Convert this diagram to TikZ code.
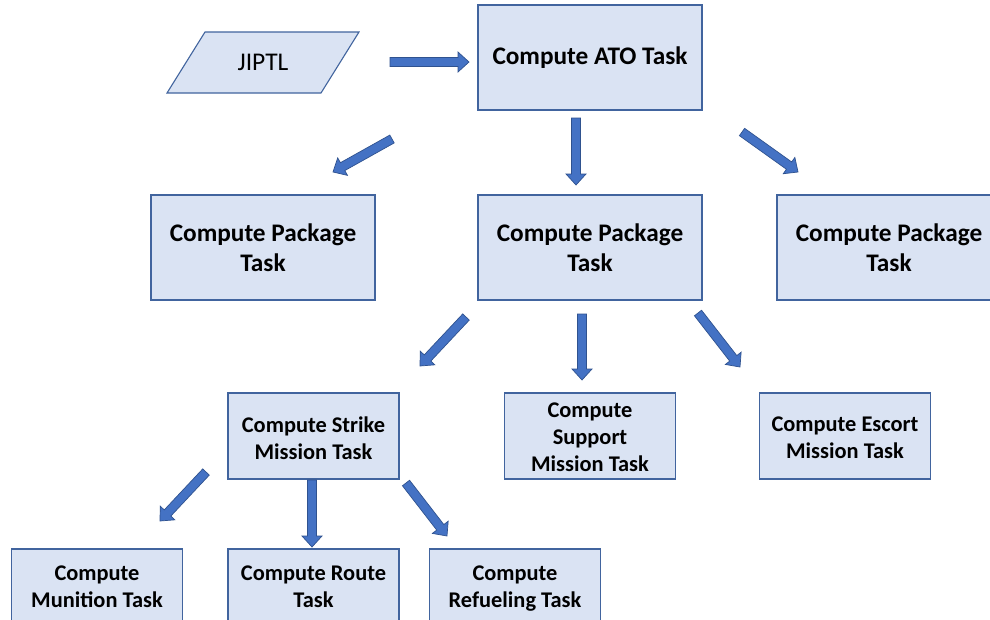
\documentclass[tikz,border=0pt]{standalone}
\usepackage{fontspec}
\setmainfont{Carlito}
\usetikzlibrary{calc}

\definecolor{boxfill}{HTML}{DAE3F3}
\definecolor{boxline}{HTML}{41649E}
\definecolor{arrowfill}{HTML}{4472C4}
\definecolor{arrowline}{HTML}{2F528F}

\tikzset{
  taskbox/.style={draw=boxline, fill=boxfill, line width=1.3pt, rectangle,
    align=center, inner sep=0pt, font=\bfseries},
  bigbox/.style={taskbox, minimum width=224pt, minimum height=105pt,
    font=\fontsize{25.3}{30}\selectfont\bfseries},
  smallbox/.style={taskbox, minimum width=171pt, minimum height=86pt,
    font=\fontsize{22.4}{27}\selectfont\bfseries},
  smalltext/.style={align=center, inner sep=0pt,
    font=\fontsize{22.4}{27}\selectfont\bfseries},
  inputshape/.style={draw=boxline, fill=boxfill, line width=1.1pt},
  blockarrow/.style={fill=arrowfill, draw=arrowline, line width=0.7pt, line join=miter},
}

% block arrow from tail #1 to tip #2
\newcommand\blockarrow[2]{%
  \coordinate (ah) at ($(#2)!11pt!(#1)$);
  \path[blockarrow]
    ($(#1)!4.5pt!90:(#2)$) -- ($(ah)!4.5pt!-90:(#1)$) -- ($(ah)!10pt!-90:(#1)$)
    -- (#2) -- ($(ah)!10pt!90:(#1)$) -- ($(ah)!4.5pt!90:(#1)$)
    -- ($(#1)!4.5pt!-90:(#2)$) -- cycle;
}

\begin{document}
\begin{tikzpicture}[x=1pt, y=-1pt]
\clip (0,0) rectangle (990,619);
\fill[white] (0,0) rectangle (990,619);

% input parallelogram
\draw[inputshape] (205,32) -- (359,32) -- (321,93) -- (167,93) -- cycle;
\node[font=\fontsize{25.5}{30}\selectfont] (jiptl) at (263,62.5) {JIPTL};

% task boxes
\node[bigbox] (ato)  at (590,57.5)  {Compute ATO Task};
\node[bigbox] (pkgL) at (263,247.5) {Compute Package\\Task};
\node[bigbox] (pkgM) at (590,247.5) {Compute Package\\Task};
\node[bigbox] (pkgR) at (889,247.5) {Compute Package\\Task};

\node[smallbox, label={[smalltext, yshift=-2pt]center:Compute Strike\\Mission Task}]
  (strike) at (313.5,436) {};
\node[smallbox, label={[smalltext, yshift=-1pt]center:Compute\\Support\\Mission Task}]
  (support) at (590,436) {};
\node[smallbox, label={[smalltext, yshift=-2pt]center:Compute Escort\\Mission Task}]
  (escort) at (845,436) {};

\node[smallbox, minimum height=76pt] (munition) at (97,587)  {Compute\\Munition Task};
\node[smallbox, minimum height=76pt] (route)    at (313.5,587) {Compute Route\\Task};
\node[smallbox, minimum height=76pt,
  label={[smalltext, yshift=-2pt]center:Compute\\Refueling Task}]
  (refuel) at (515,587) {};

% arrow end points
\coordinate (j1) at (390,62);  \coordinate (j2) at (469,62);
\coordinate (a1) at (392,139); \coordinate (a2) at (333,172);
\coordinate (a3) at (576,118); \coordinate (a4) at (576,185);
\coordinate (a5) at (742,132); \coordinate (a6) at (798,172);
\coordinate (p1) at (466,317); \coordinate (p2) at (420,366);
\coordinate (p3) at (582,314); \coordinate (p4) at (582,380);
\coordinate (p5) at (698,313); \coordinate (p6) at (740,367);
\coordinate (s1) at (206,472); \coordinate (s2) at (160,521);
\coordinate (s3) at (312,480); \coordinate (s4) at (312,547);
\coordinate (s5) at (406,483); \coordinate (s6) at (447,536);

\blockarrow{j1}{j2}
\blockarrow{a1}{a2}
\blockarrow{a3}{a4}
\blockarrow{a5}{a6}
\blockarrow{p1}{p2}
\blockarrow{p3}{p4}
\blockarrow{p5}{p6}
\blockarrow{s1}{s2}
\blockarrow{s3}{s4}
\blockarrow{s5}{s6}
\end{tikzpicture}
\end{document}
